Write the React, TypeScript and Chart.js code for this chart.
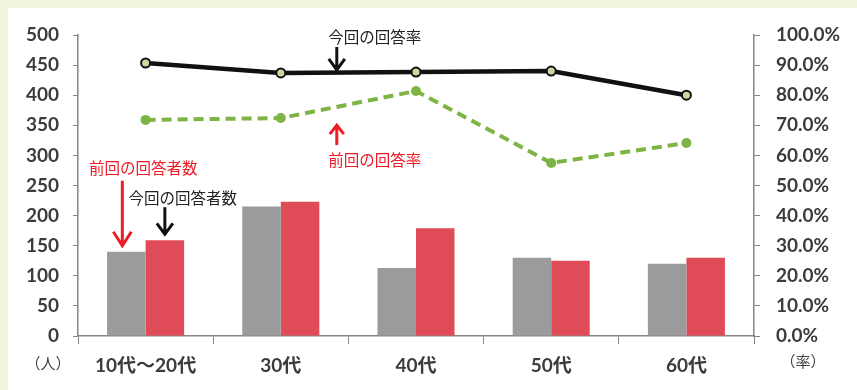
import React, { useEffect, useRef } from "react";
import { Chart, registerables } from "chart.js";

Chart.register(...registerables);

const categories = ["10代～20代", "30代", "40代", "50代", "60代"];
const prevCount = [140, 215, 113, 130, 120];
const currCount = [159, 223, 179, 125, 130];
const currRate = [90.7, 87.4, 87.7, 88.0, 80.0];
const prevRate = [71.8, 72.4, 81.4, 57.5, 64.1];
const leftTicks = { min: 0, max: 500, step: 50 };
const rightTicks = { min: 0, max: 100, step: 10 };

const TICK_FONT = { family: "Lato, 'Noto Sans CJK JP', sans-serif", size: 19, weight: "bold" as const };
const ANN_FONT = "15.5px 'Noto Sans CJK JP', sans-serif";

function arrow(ctx: CanvasRenderingContext2D, x: number, y0: number, y1: number, color: string, hw: number, hh: number) {
  ctx.save();
  ctx.strokeStyle = color;
  ctx.lineWidth = 3;
  ctx.lineCap = "butt";
  ctx.beginPath();
  ctx.moveTo(x, y0);
  ctx.lineTo(x, y1);
  const dir = y1 > y0 ? -1 : 1;
  ctx.moveTo(x - hw, y1 + dir * hh);
  ctx.lineTo(x, y1);
  ctx.lineTo(x + hw, y1 + dir * hh);
  ctx.stroke();
  ctx.restore();
}

function text(ctx: CanvasRenderingContext2D, s: string, x: number, y: number, color: string, font = ANN_FONT) {
  ctx.save();
  ctx.fillStyle = color;
  ctx.font = font;
  ctx.textAlign = "center";
  ctx.textBaseline = "middle";
  ctx.fillText(s, x, y);
  ctx.restore();
}

const bgPlugin = {
  id: "bg",
  beforeDraw(chart: any) {
    const { ctx, width, height } = chart;
    ctx.save();
    ctx.fillStyle = "#eff4da";
    ctx.fillRect(0, 0, width, height);
    ctx.fillStyle = "#ffffff";
    ctx.fillRect(8, 8, width - 8, height - 8);
    ctx.restore();
  },
};

const annPlugin = {
  id: "ann",
  afterDraw(chart: any) {
    const ctx = chart.ctx as CanvasRenderingContext2D;
    const xs = chart.scales.x;
    const yR = chart.scales.y1;
    const area = chart.chartArea;
    const gray = chart.getDatasetMeta(2).data[0];
    const red = chart.getDatasetMeta(3).data[0];
    // 前回の回答者数
    arrow(ctx, gray.x - 4, gray.y - 71, gray.y - 6, "#ee1c25", 9, 14);
    text(ctx, "前回の回答者数", gray.x + 17, gray.y - 84, "#ee1c25");
    // 今回の回答者数
    arrow(ctx, red.x, red.y - 33, red.y - 6, "#111111", 8, 11);
    text(ctx, "今回の回答者数", red.x + 18, red.y - 42, "#222222");
    // 今回の回答率
    const ax = xs.getPixelForValue(1) + 56;
    const yc = yR.getPixelForValue(currRate[1]);
    arrow(ctx, ax, yc - 26, yc - 3, "#111111", 8, 11);
    text(ctx, "今回の回答率", ax + 38, yc - 36, "#222222");
    // 前回の回答率
    const yp = yR.getPixelForValue(prevRate[1]);
    arrow(ctx, ax, yp + 27, yp + 7, "#ee1c25", 7, 9);
    text(ctx, "前回の回答率", ax + 38, yp + 42, "#ee1c25");
    // units
    text(ctx, "（人）", area.left - 30, area.bottom + 27, "#444444", "15px 'Noto Sans CJK JP', sans-serif");
    text(ctx, "（率）", area.right + 49, area.bottom + 25, "#444444", "15px 'Noto Sans CJK JP', sans-serif");
  },
};

export default function App() {
  const ref = useRef<HTMLCanvasElement | null>(null);
  useEffect(() => {
    if (!ref.current) return;
    const chart = new Chart(ref.current, {
      type: "bar",
      data: {
        labels: categories,
        datasets: [
          {
            type: "line",
            label: "今回の回答率",
            data: currRate,
            yAxisID: "y1",
            borderColor: "#111111",
            borderWidth: 4.5,
            pointRadius: 4.5,
            pointBorderWidth: 2,
            pointBackgroundColor: "#c9d9a2",
            pointBorderColor: "#111111",
            tension: 0,
            order: 1,
          },
          {
            type: "line",
            label: "前回の回答率",
            data: prevRate,
            yAxisID: "y1",
            borderColor: "#7db443",
            borderWidth: 4,
            borderDash: [10, 6],
            pointRadius: 5,
            pointBorderWidth: 0,
            pointBackgroundColor: "#7db443",
            tension: 0,
            order: 2,
          },
          {
            type: "bar",
            label: "前回の回答者数",
            data: prevCount,
            yAxisID: "y",
            backgroundColor: "#9b9b9e",
            categoryPercentage: 0.57,
            barPercentage: 1,
            order: 3,
          },
          {
            type: "bar",
            label: "今回の回答者数",
            data: currCount,
            yAxisID: "y",
            backgroundColor: "#df4b57",
            categoryPercentage: 0.57,
            barPercentage: 1,
            order: 4,
          },
        ],
      },
      options: {
        responsive: false,
        animation: false,
        devicePixelRatio: 1,
        layout: { padding: { left: 8, top: 35, right: 0, bottom: 0 } },
        plugins: { legend: { display: false }, tooltip: { enabled: false } },
        scales: {
          x: {
            offset: true,
            grid: { display: true, drawOnChartArea: false, drawTicks: true, tickLength: 8, offset: true, color: "#8c8282" },
            border: { display: true, color: "#8c8282", width: 1.5 },
            ticks: { color: "#3c3c3c", font: TICK_FONT, padding: 10, maxRotation: 0 },
            afterFit: (s: any) => { s.height = 54; },
          },
          y: {
            position: "left",
            min: leftTicks.min,
            max: leftTicks.max,
            ticks: { stepSize: leftTicks.step, color: "#3c3c3c", font: TICK_FONT, padding: 14 },
            grid: { drawOnChartArea: false, drawTicks: true, tickLength: 5, color: "#8c8282" },
            border: { display: true, color: "#8c8282", width: 1.5 },
            afterFit: (s: any) => { s.width = 70; },
          },
          y1: {
            position: "right",
            min: rightTicks.min,
            max: rightTicks.max,
            ticks: {
              stepSize: rightTicks.step,
              color: "#3c3c3c",
              font: TICK_FONT,
              padding: 16,
              callback: (v: any) => Number(v).toFixed(1) + "%",
            },
            grid: { drawOnChartArea: false, drawTicks: true, tickLength: 6, color: "#8c8282" },
            border: { display: true, color: "#8c8282", width: 1.5 },
            afterFit: (s: any) => { s.width = 103; },
          },
        },
      },
      plugins: [bgPlugin, annPlugin],
    } as any);
    return () => chart.destroy();
  }, []);
  return (
    <div style={{ position: "fixed", left: 0, top: 0, width: 857, height: 390 }}>
      <canvas ref={ref} width={857} height={390} style={{ width: 857, height: 390, display: "block" }} />
    </div>
  );
}
